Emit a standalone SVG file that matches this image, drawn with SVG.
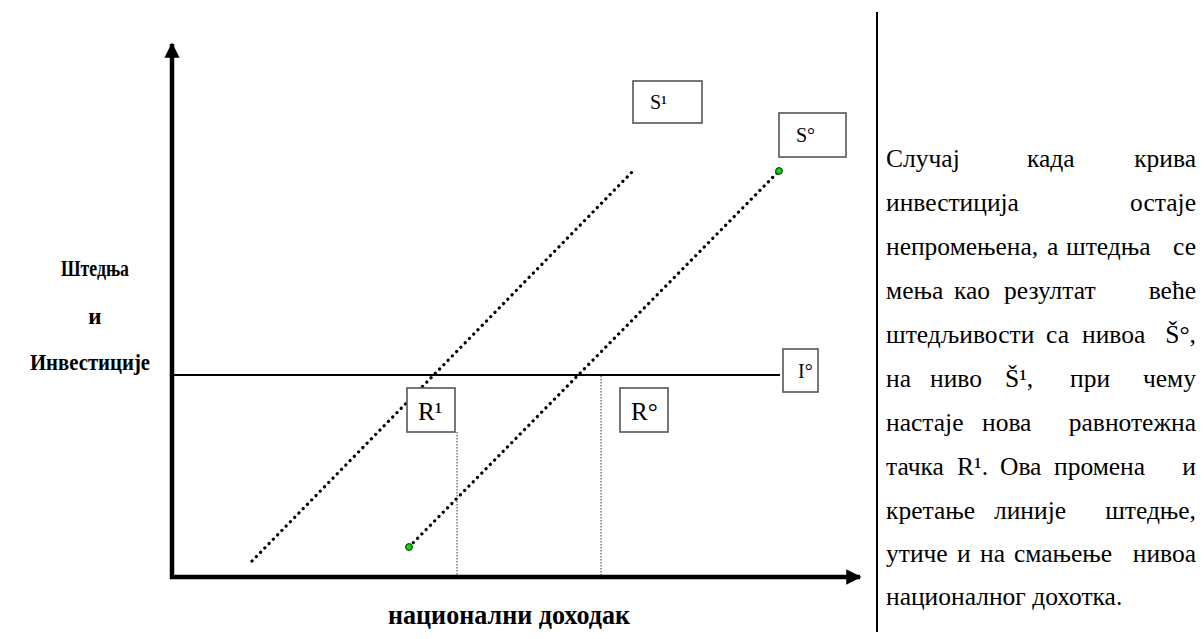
<svg xmlns="http://www.w3.org/2000/svg" width="1204" height="639" viewBox="0 0 1204 639">
  <defs>
    <style>
      .axis { stroke: #000; stroke-width: 4.5; fill: none; }
      .ilevel { stroke: #000; stroke-width: 2; fill: none; }
      .dots { stroke: #000; stroke-width: 3.2; stroke-linecap: round; stroke-dasharray: 0.1 6; fill: none; }
      .guide { stroke: #333; stroke-width: 1; stroke-dasharray: 1.5 1.5; fill: none; }
      .box { fill: #fff; stroke: #555; stroke-width: 1.6; }
      .blabel { font-family: "Liberation Serif", "Times New Roman", serif; font-size: 20px; fill: #000; }
      .rlabel { font-family: "Liberation Serif", "Times New Roman", serif; font-size: 25px; fill: #000; }
      .axlabel { font-family: "Liberation Serif", "Times New Roman", serif; font-weight: bold; font-size: 23px; fill: #000; text-anchor: middle; }
      .xlabel { font-family: "Liberation Serif", "Times New Roman", serif; font-weight: bold; font-size: 28px; fill: #000; text-anchor: middle; }
      .body { font-family: "Liberation Serif", "Times New Roman", serif; font-size: 25.5px; fill: #000; }
      .end { text-anchor: end; }
      .pt { fill: #00e000; stroke: #1a1a1a; stroke-width: 1; }
    </style>
    <marker id="arrowhead" viewBox="0 0 10 10" refX="9" refY="5" markerWidth="4" markerHeight="3.4" orient="auto" markerUnits="strokeWidth">
      <path d="M0,0 L10,5 L0,10 Z" fill="#000"/>
    </marker>
  </defs>
  <rect width="1204" height="639" fill="#fff"/>

  <!-- axes -->
  <g id="axes">
    <line class="axis" x1="172" y1="579" x2="172" y2="44" marker-end="url(#arrowhead)"/>
    <line class="axis" x1="170" y1="577" x2="860" y2="577" marker-end="url(#arrowhead)"/>
  </g>

  <!-- axis titles -->
  <g id="y-title">
    <text class="axlabel" x="95" y="276" textLength="68" lengthAdjust="spacingAndGlyphs">Штедња</text>
    <text class="axlabel" x="95" y="324">и</text>
    <text class="axlabel" x="90" y="370" textLength="120" lengthAdjust="spacingAndGlyphs">Инвестиције</text>
  </g>
  <g id="x-title">
    <text class="xlabel" x="509" y="624" textLength="242" lengthAdjust="spacingAndGlyphs">национални доходак</text>
  </g>

  <!-- connectors: savings lines, investment level, guides -->
  <g id="connectors">
    <line class="dots" x1="252" y1="561" x2="633" y2="171"/>
    <line class="dots" x1="409" y1="547" x2="779" y2="171"/>
    <line class="ilevel" x1="172" y1="375" x2="780" y2="375"/>
    <line class="guide" x1="457" y1="432" x2="457" y2="576"/>
    <line class="guide" x1="601" y1="376" x2="601" y2="576"/>
    <circle class="pt" cx="409" cy="547" r="3.4"/>
    <circle class="pt" cx="779" cy="171" r="3.4"/>
  </g>

  <!-- labelled boxes -->
  <g id="node-s1">
    <rect class="box" x="633" y="81" width="69" height="42"/>
    <text class="blabel" x="650" y="109">S¹</text>
  </g>
  <g id="node-s0">
    <rect class="box" x="779" y="113" width="67" height="44"/>
    <text class="blabel" x="796" y="142">S°</text>
  </g>
  <g id="node-i0">
    <rect class="box" x="783" y="349" width="35" height="43"/>
    <text class="blabel" x="798" y="378">I°</text>
  </g>
  <g id="node-r1">
    <rect class="box" x="407" y="388" width="48" height="44"/>
    <text class="rlabel" x="418" y="420">R¹</text>
  </g>
  <g id="node-r0">
    <rect class="box" x="620" y="388" width="48" height="44"/>
    <text class="rlabel" x="631" y="420">R°</text>
  </g>

  <!-- explanatory column -->
  <g id="note">
    <line x1="877" y1="12" x2="877" y2="632" stroke="#000" stroke-width="2"/>
    <text class="body">
      <tspan x="886" y="167">Случај</tspan><tspan x="1027" y="167">када</tspan><tspan class="end" x="1196" y="167">крива</tspan>
    </text>
    <text class="body">
      <tspan x="886" y="211">инвестиција</tspan><tspan class="end" x="1196" y="211">остаје</tspan>
    </text>
    <text class="body">
      <tspan x="886" y="255">непромењена,</tspan><tspan x="1047" y="255">а</tspan><tspan x="1066" y="255">штедња</tspan><tspan class="end" x="1196" y="255">се</tspan>
    </text>
    <text class="body">
      <tspan x="886" y="299">мења</tspan><tspan x="954" y="299">као</tspan><tspan x="1004" y="299">резултат</tspan><tspan class="end" x="1196" y="299">веће</tspan>
    </text>
    <text class="body">
      <tspan x="886" y="343">штедљивости</tspan><tspan x="1046" y="343">са</tspan><tspan x="1082" y="343">нивоа</tspan><tspan class="end" x="1196" y="343">Š°,</tspan>
    </text>
    <text class="body">
      <tspan x="886" y="387">на</tspan><tspan x="930" y="387">ниво</tspan><tspan x="1005" y="387">Š¹,</tspan><tspan x="1070" y="387">при</tspan><tspan class="end" x="1196" y="387">чему</tspan>
    </text>
    <text class="body">
      <tspan x="886" y="431">настаје</tspan><tspan x="982" y="431">нова</tspan><tspan class="end" x="1196" y="431">равнотежна</tspan>
    </text>
    <text class="body">
      <tspan x="886" y="475">тачка</tspan><tspan x="957" y="475">R¹.</tspan><tspan x="1000" y="475">Ова</tspan><tspan x="1054" y="475">промена</tspan><tspan class="end" x="1196" y="475">и</tspan>
    </text>
    <text class="body">
      <tspan x="886" y="519">кретање</tspan><tspan x="994" y="519">линије</tspan><tspan class="end" x="1196" y="519">штедње,</tspan>
    </text>
    <text class="body">
      <tspan x="886" y="562">утиче</tspan><tspan x="957" y="562">и</tspan><tspan x="980" y="562">на</tspan><tspan x="1014" y="562">смањење</tspan><tspan class="end" x="1196" y="562">нивоа</tspan>
    </text>
    <text class="body" x="886" y="605">националног дохотка.</text>
  </g>
</svg>
